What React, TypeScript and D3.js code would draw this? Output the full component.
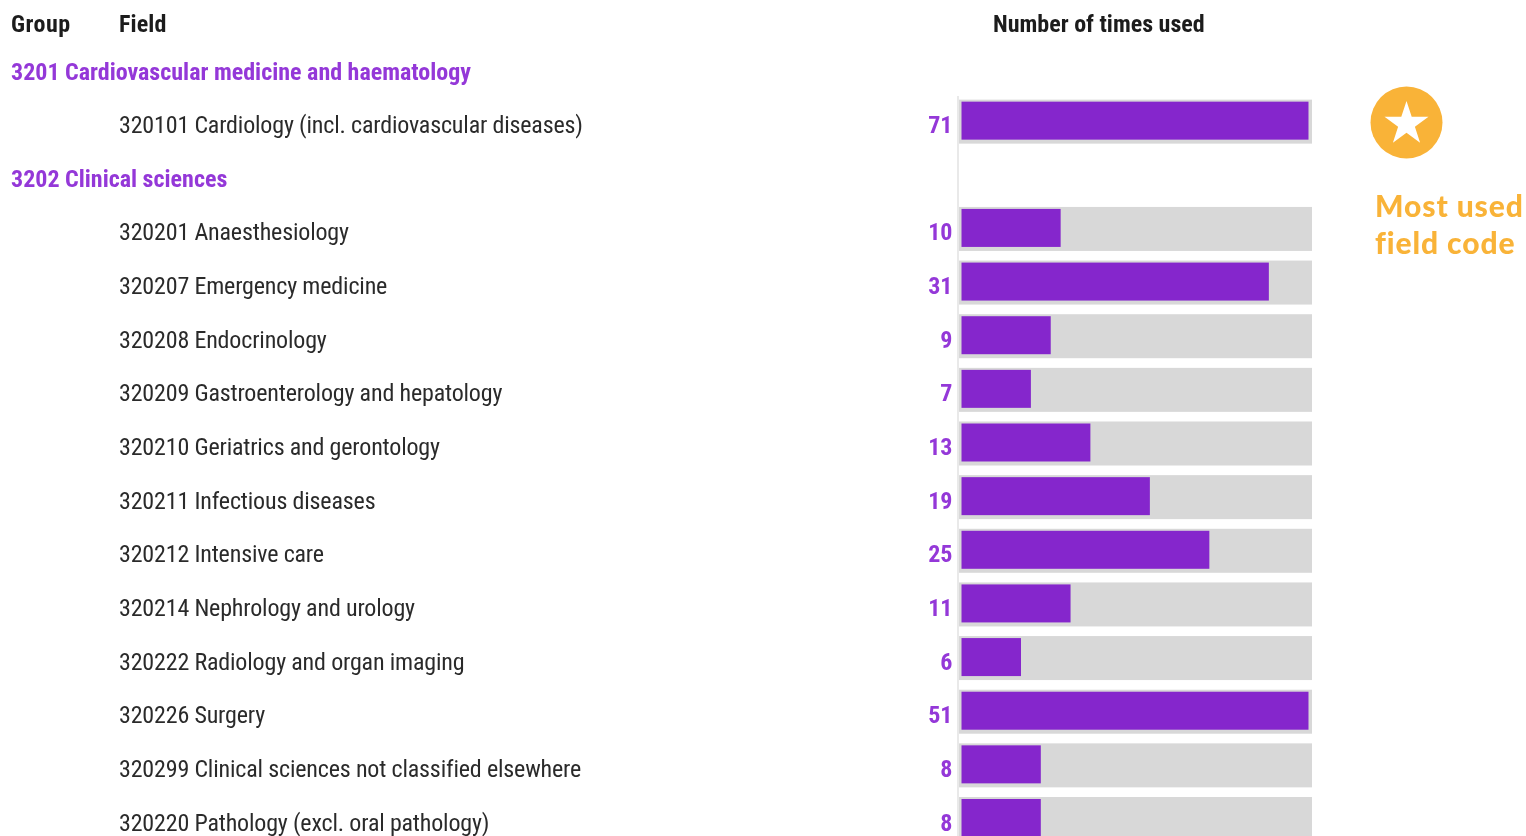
import React from "react";
import * as d3 from "d3";

const fieldLabels = [
  "320101 Cardiology (incl. cardiovascular diseases)",
  "320201 Anaesthesiology",
  "320207 Emergency medicine",
  "320208 Endocrinology",
  "320209 Gastroenterology and hepatology",
  "320210 Geriatrics and gerontology",
  "320211 Infectious diseases",
  "320212 Intensive care",
  "320214 Nephrology and urology",
  "320222 Radiology and organ imaging",
  "320226 Surgery",
  "320299 Clinical sciences not classified elsewhere",
  "320220 Pathology (excl. oral pathology)",
];
const fieldValues = [71, 10, 31, 9, 7, 13, 19, 25, 11, 6, 51, 8, 8];
const fieldRows = [1, 3, 4, 5, 6, 7, 8, 9, 10, 11, 12, 13, 14];
const groupLabels = ["3201 Cardiovascular medicine and haematology", "3202 Clinical sciences"];
const groupRows = [0, 2];
const headers = ["Group", "Field", "Number of times used"];
const legendLines = ["Most used", "field code"];

const FONT = "'Liberation Sans Narrow', 'Roboto Condensed', Roboto, sans-serif";
const PURPLE = "#8526cc";
const TEXT_PURPLE = "#9437d8";
const ORANGE = "#f9b339";
const GREY = "#d8d8d8";

export default function App() {
  const x = d3.scaleLinear().domain([0, 35]).range([961.5, 1308.5]).clamp(true);
  const y = d3.scaleLinear().domain([0, 14]).range([71, 822]);
  const star = d3.symbol().type(d3.symbolStar).size(600)();
  const barH = 38;
  return (
    <svg
      width={1526}
      height={836}
      viewBox="0 0 1526 836"
      style={{ position: "fixed", left: 0, top: 0, background: "#fff" }}
    >
      <defs>
        <filter id="soft" x="-5%" y="-20%" width="110%" height="140%">
          <feGaussianBlur stdDeviation="0.45" />
        </filter>
      </defs>
      <g filter="url(#soft)" fontFamily={FONT}>
        <g fontSize={24} fontWeight={700} fill="#1c1c1c">
          <text x={11} y={32} letterSpacing={0.5}>{headers[0]}</text>
          <text x={119} y={32} letterSpacing={0.1}>{headers[1]}</text>
          <text x={993} y={32}>{headers[2]}</text>
        </g>
        {groupLabels.map((g, i) => (
          <text key={g} x={11} y={y(groupRows[i]) + 8.5} fontSize={24} fontWeight={700} fill={TEXT_PURPLE}>{g}</text>
        ))}
        {fieldLabels.map((f, i) => (
          <text key={f} x={119} y={y(fieldRows[i]) + 8.5} fontSize={24} letterSpacing={-0.17} fill="#2b2b2b">{f}</text>
        ))}
        <line x1={958} x2={958} y1={96} y2={836} stroke="#e9e9e9" strokeWidth={2} />
        {fieldValues.map((v, i) => {
          const cy = y(fieldRows[i]);
          return (
            <g key={fieldLabels[i]}>
              <rect x={959} y={cy - 25} width={353} height={44} fill={GREY} />
              <rect x={x(0)} y={cy - 23} width={x(v) - x(0)} height={barH} fill={PURPLE} />
              <text x={952.5} y={cy + 8.5} textAnchor="end" fontSize={24} fontWeight={700} fill={TEXT_PURPLE}>{v}</text>
            </g>
          );
        })}
        <circle cx={1406.5} cy={122.5} r={36} fill={ORANGE} />
        <path d={star ?? ""} transform="translate(1406.5,124)" fill="#fff" />
        <g fontFamily="Lato, sans-serif" fontWeight={900} fontSize={30} letterSpacing={0.9} fill={ORANGE} style={{ fontVariantLigatures: "none" }}>
          <text x={1375} y={217}>{legendLines[0]}</text>
          <text x={1375} y={254}>{legendLines[1]}</text>
        </g>
      </g>
    </svg>
  );
}
